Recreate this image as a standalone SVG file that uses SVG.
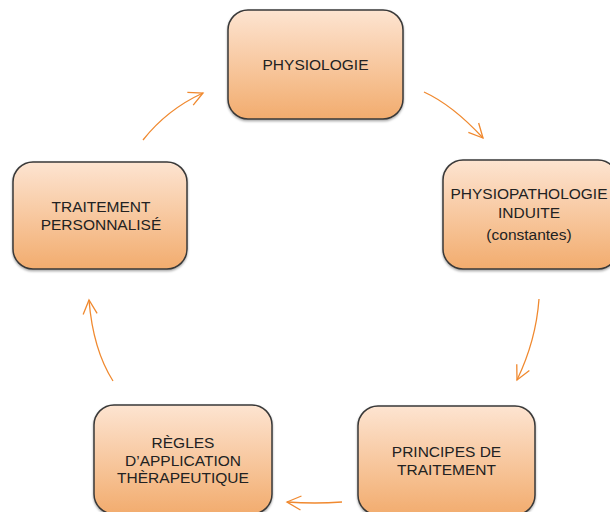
<svg xmlns="http://www.w3.org/2000/svg" width="610" height="512" viewBox="0 0 610 512">
<defs>
<linearGradient id="g" x1="0" y1="0" x2="0" y2="1">
<stop offset="0" stop-color="#fde4d1"/>
<stop offset="1" stop-color="#f2ac6e"/>
</linearGradient>
<filter id="sh" x="-10%" y="-10%" width="120%" height="130%">
<feDropShadow dx="0" dy="1.5" stdDeviation="1.2" flood-color="#000" flood-opacity="0.35"/>
</filter>
<marker id="ah" markerUnits="userSpaceOnUse" markerWidth="18" markerHeight="18" refX="15" refY="8" orient="auto">
<path d="M1,1 L15,8 L1,15" fill="none" stroke="#f0892f" stroke-width="1.3"/>
</marker>
<style>
.box{fill:url(#g);stroke:#383838;stroke-width:1.5;filter:url(#sh)}
.t{font-family:"Liberation Sans",Arial,sans-serif;font-size:15.5px;fill:#222;text-anchor:middle}
.c{fill:none;stroke:#f0892f;stroke-width:1.3;marker-end:url(#ah)}
</style>
</defs>
<rect width="610" height="512" fill="#fff"/>
<g id="connectors">
<path class="c" d="M143,140 Q167,109.5 203,93"/>
<path class="c" d="M424,92 Q452.5,105 483,138"/>
<path class="c" d="M539,299 Q536,340.5 517,380"/>
<path class="c" d="M342,502 Q315,504 287,502"/>
<path class="c" d="M113,381 Q93,349.5 89,300"/>
</g>
<g id="physiologie">
<rect class="box" x="228" y="10" width="175" height="109" rx="20"/>
<text class="t" x="315.5" y="70">PHYSIOLOGIE</text>
</g>
<g id="physiopathologie">
<rect class="box" x="443" y="160" width="175" height="109" rx="20"/>
<text class="t" x="529" y="199">PHYSIOPATHOLOGIE</text>
<text class="t" x="529" y="218">INDUITE</text>
<text class="t" x="529" y="240">(constantes)</text>
</g>
<g id="principes">
<rect class="box" x="358" y="406" width="177" height="109" rx="20"/>
<text class="t" x="446.5" y="457">PRINCIPES DE</text>
<text class="t" x="446.5" y="475">TRAITEMENT</text>
</g>
<g id="regles">
<rect class="box" x="94" y="405" width="178" height="109" rx="20"/>
<text class="t" x="183" y="448">RÈGLES</text>
<text class="t" x="183" y="466">D’APPLICATION</text>
<text class="t" x="183" y="483">THÈRAPEUTIQUE</text>
</g>
<g id="traitement">
<rect class="box" x="13" y="162" width="174" height="107" rx="20"/>
<text class="t" x="101" y="212">TRAITEMENT</text>
<text class="t" x="101" y="230">PERSONNALISÉ</text>
</g>
</svg>
